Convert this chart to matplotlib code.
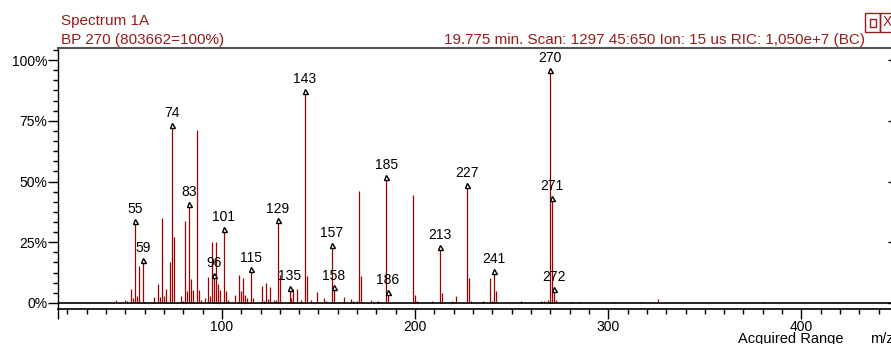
import matplotlib.pyplot as plt
from matplotlib.ticker import MultipleLocator, FuncFormatter
from matplotlib.patches import Rectangle

# m/z and relative intensity (%)
mz = [45, 50, 51, 53, 54, 55, 56, 57, 59, 60, 65, 67, 68, 69, 70, 71, 73, 74, 75,
      79, 80, 81, 82, 83, 84, 85, 87, 88, 89, 91, 93, 94, 95, 96, 97, 98, 99,
      101, 102, 103, 107, 109, 110, 111, 112, 113, 115, 116, 121, 122, 123, 124,
      125, 127, 128, 129, 130, 135, 136, 137, 139, 141, 143, 144, 146, 149, 153,
      154, 157, 158, 163, 167, 168, 170, 171, 172, 177, 181, 185, 186, 199, 200,
      201, 209, 213, 214, 219, 221, 227, 228, 229, 235, 239, 240, 241, 242, 255,
      265, 267, 269, 270, 271, 272, 273, 281, 285, 303, 317, 326, 380, 417]
intensity = [1.2, 1.1, 0.6, 5.8, 2.0, 33.6, 3.0, 15.4, 17.6, 0.5, 2.5, 7.7, 2.4,
             35.1, 2.9, 5.8, 16.9, 73.2, 27.3, 2.9, 1.0, 33.7, 4.8, 40.8, 9.7,
             5.4, 71.3, 5.4, 1.1, 2.1, 10.8, 3.0, 25.3, 11.5, 25.3, 8.0, 5.4,
             30.6, 5.0, 1.2, 3.4, 11.6, 5.0, 10.1, 3.3, 1.9, 13.8, 1.9, 6.8, 1.0,
             8.3, 1.7, 6.4, 1.1, 1.1, 34.0, 11.6, 6.1, 2.0, 5.8, 5.8, 1.1, 87.3,
             11.0, 1.1, 4.5, 1.9, 1.0, 23.8, 6.4, 2.6, 1.5, 0.8, 0.8, 46.3, 11.0,
             1.2, 0.8, 52.0, 4.4, 44.3, 3.1, 1.0, 0.8, 23.0, 3.9, 1.0, 3.0, 48.5,
             10.3, 0.8, 1.0, 10.3, 1.0, 13.2, 4.9, 1.0, 0.8, 1.0, 1.4, 96.0, 43.4,
             5.9, 1.2, 0.4, 0.4, 0.5, 0.5, 1.6, 0.3, 0.5]
labeled = [55, 59, 74, 83, 96, 101, 115, 129, 135, 143, 157, 158, 185, 186,
           213, 227, 241, 270, 271, 272]

peak_color = '#a00000'
text_color = '#9c1a1a'
font = 'Liberation Sans'
plt.rcParams['font.family'] = font

W, H = 891, 344
fig = plt.figure(figsize=(W / 100, H / 100), dpi=100)
ax = fig.add_axes([57.7 / W, (H - 309) / H, (898 - 57.7) / W, (309 - 48) / H])

ax.vlines(mz, 0, intensity, color=peak_color, lw=0.9)
ax.axhline(0, color='black', lw=1.2, zorder=3)

lookup = dict(zip(mz, intensity))
for m in labeled:
    v = lookup[m]
    ax.plot(m, v, marker='^', ms=3.6, mfc='white', mec='black', mew=1.0, zorder=4)
    ax.annotate(str(m), (m, v), xytext=(0, 3.5), textcoords='offset points',
                ha='center', va='bottom', fontsize=10, color='black')

ax.set_xlim(15, 450)
ax.set_ylim(-2.5, 105)

ax.set_yticks([0, 25, 50, 75, 100])
ax.yaxis.set_major_formatter(FuncFormatter(lambda v, p: f'{v:.0f}%'))
ax.yaxis.set_minor_locator(MultipleLocator(25 / 6))
ax.set_xticks([15, 100, 200, 300, 400])
ax.set_xticklabels(['', '100', '200', '300', '400'])
ax.xaxis.set_minor_locator(MultipleLocator(10))
ax.tick_params(axis='y', which='major', length=7, width=1, pad=0.5, labelsize=10)
ax.tick_params(axis='y', which='minor', length=3.6, width=1)
ax.tick_params(axis='x', which='major', length=7.2, width=1, pad=1, labelsize=10)
ax.tick_params(axis='x', which='minor', length=3.6, width=1)

sec = ax.secondary_yaxis('right')
sec.set_yticks([0, 25, 50, 75, 100])
sec.tick_params(direction='in', length=7.2, width=1, labelright=False)
sec.spines['right'].set_visible(False)

ax.spines['right'].set_visible(False)
ax.spines['top'].set_color('#555555')
ax.spines['top'].set_linewidth(1.5)
ax.spines['bottom'].set_linewidth(1.2)
ax.spines['left'].set_linewidth(1.0)

# header texts
fig.text(61 / W, 1 - 21 / H, 'Spectrum 1A', color=text_color, fontsize=11,
         ha='left', va='center')
fig.text(61 / W, 1 - 40 / H, 'BP 270 (803662=100%)', color=text_color,
         fontsize=11, ha='left', va='center')
fig.text(865 / W, 1 - 40 / H,
         '19.775 min. Scan: 1297 45:650 Ion: 15 us RIC: 1,050e+7 (BC)',
         color=text_color, fontsize=11, ha='right', va='center')
fig.text(738 / W, 1 - 343 / H, 'Acquired Range', fontsize=10.5,
         ha='left', va='baseline')
fig.text(870 / W, 1 - 343 / H, 'm/z', fontsize=10.5, ha='left', va='baseline')

# little window buttons top right
fig.patches.append(Rectangle((865 / W, 1 - 32 / H), 15 / W, 19 / H,
                             transform=fig.transFigure, fill=False,
                             ec=text_color, lw=1))
fig.patches.append(Rectangle((870 / W, 1 - 27 / H), 6 / W, 8 / H,
                             transform=fig.transFigure, fill=False,
                             ec=text_color, lw=1))
fig.patches.append(Rectangle((880 / W, 1 - 32 / H), 15 / W, 19 / H,
                             transform=fig.transFigure, fill=False,
                             ec=text_color, lw=1))
fig.text(887 / W, 1 - 22 / H, 'X', color=text_color, fontsize=10,
         ha='center', va='center')

fig.savefig('out.png', dpi=100)
